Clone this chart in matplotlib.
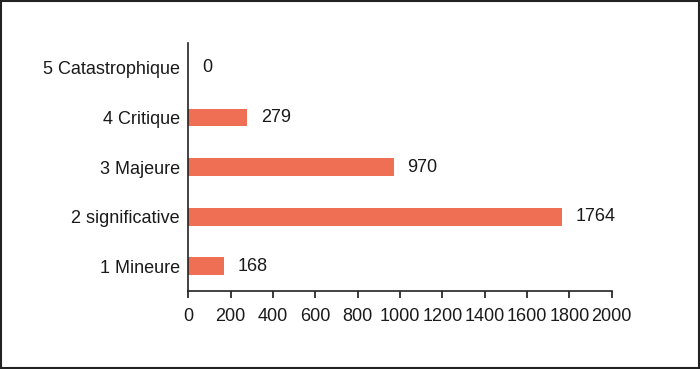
import matplotlib.pyplot as plt
from matplotlib.patches import Rectangle

plt.rcParams['font.family'] = ['Liberation Sans', 'DejaVu Sans']

# categories bottom to top
categories = ['1 Mineure', '2 significative', '3 Majeure', '4 Critique', '5 Catastrophique']
values = [168, 1764, 970, 279, 0]
ticks = [0, 200, 400, 600, 800, 1000, 1200, 1400, 1600, 1800, 2000]

fig = plt.figure(figsize=(7, 3.69), dpi=100)
ax = fig.add_axes([0.269, 0.211, 0.605, 0.672])

ax.barh(range(len(categories)), values, height=0.36, color='#ef6f55')
for i, v in enumerate(values):
    ax.annotate(str(v), (v, i), xytext=(10, 0), textcoords='offset points',
                va='center', ha='left', fontsize=13, color='#1a1a1a')

ax.set_xlim(0, 2000)
ax.set_ylim(-0.5, 4.5)
ax.set_xticks(ticks)
ax.set_yticks(range(len(categories)))
ax.set_yticklabels(categories)
ax.tick_params(axis='x', length=5, width=1.2, labelsize=13, pad=7, colors='#1a1a1a')
ax.tick_params(axis='y', length=0, labelsize=13, pad=6, colors='#1a1a1a')
for s in ['top', 'right']:
    ax.spines[s].set_visible(False)
for s in ['left', 'bottom']:
    ax.spines[s].set_linewidth(1.2)
    ax.spines[s].set_color('#222222')

# border around the whole figure
fig.patches.append(Rectangle((0.002, 0.003), 0.996, 0.994, transform=fig.transFigure,
                             fill=False, edgecolor='#222222', linewidth=1.5))

fig.savefig('out.png', dpi=100)
